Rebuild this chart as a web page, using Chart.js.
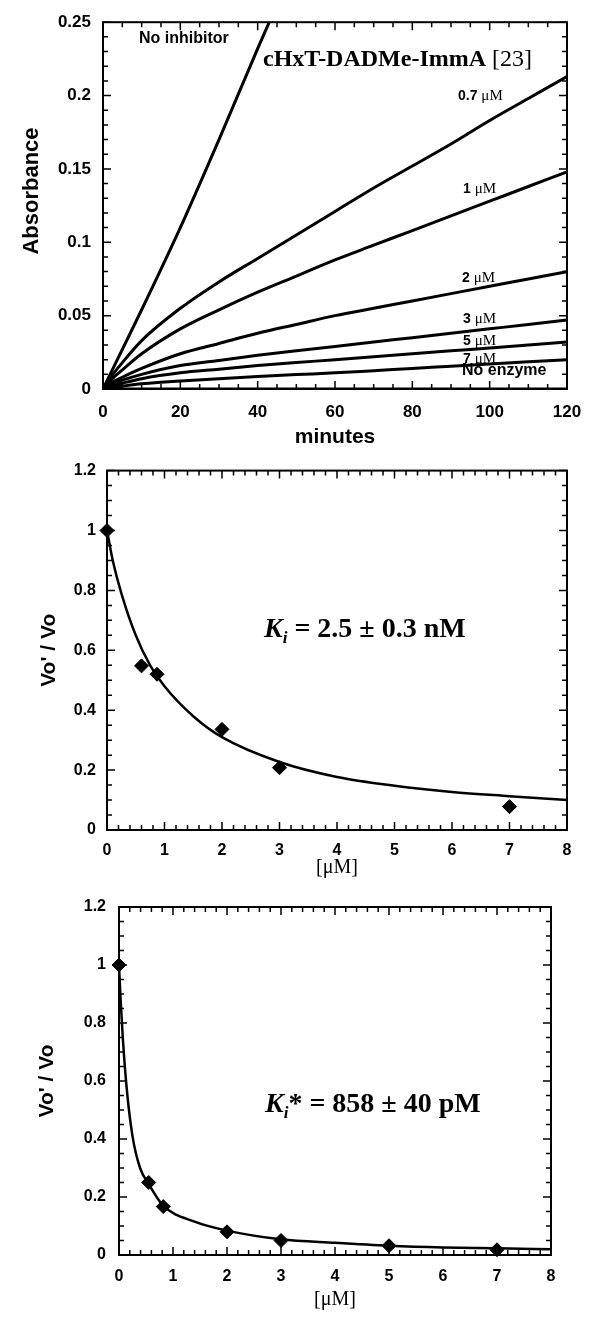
<!DOCTYPE html>
<html>
<head>
<meta charset="utf-8">
<script src="https://cdn.jsdelivr.net/npm/chart.js@4.4.1/dist/chart.umd.min.js"></script>
<style>
    body { margin: 0; background: #fff; width: 600px; height: 1325px; position: relative; overflow: hidden; }
    canvas { position: absolute; left: 0; }
</style>
</head>
<body>
<canvas id="absorbance" width="600" height="450" style="top:0"></canvas>
<canvas id="ki" width="600" height="430" style="top:450px"></canvas>
<canvas id="kistar" width="600" height="445" style="top:880px"></canvas>

<script>
// --- top panel: absorbance vs minutes ---
const minutes = [0, 2, 5, 10, 20, 30, 40, 50, 60, 70, 80, 90, 100, 110, 120];
const noInhibitorMinutes = [0, 5, 10, 20, 30, 40, 43];
const absNoInhibitor = [0, 0.027, 0.054, 0.110, 0.170, 0.232, 0.25];
const abs07uM = [0, 0.008, 0.018, 0.033, 0.055, 0.073, 0.089, 0.105, 0.121, 0.137, 0.152, 0.167, 0.183, 0.198, 0.213];
const abs1uM = [0, 0.006, 0.013, 0.024, 0.041, 0.054, 0.066, 0.077, 0.088, 0.098, 0.108, 0.118, 0.128, 0.138, 0.148];
const abs2uM = [0, 0.004, 0.008, 0.014, 0.024, 0.031, 0.038, 0.044, 0.050, 0.055, 0.060, 0.065, 0.070, 0.075, 0.080];
const abs3uM = [0, 0.003, 0.006, 0.010, 0.016, 0.0195, 0.023, 0.026, 0.029, 0.032, 0.035, 0.038, 0.041, 0.044, 0.047];
const abs5uM = [0, 0.002, 0.004, 0.007, 0.011, 0.0135, 0.016, 0.018, 0.020, 0.022, 0.024, 0.026, 0.028, 0.030, 0.032];
const abs7uM = [0, 0.001, 0.002, 0.0035, 0.0055, 0.007, 0.0085, 0.0098, 0.011, 0.0125, 0.014, 0.0155, 0.017, 0.0185, 0.020];
const absNoEnzyme = [0, 0, 0, 0, 0, 0, 0, 0, 0, 0, 0, 0, 0, 0, 0];
const minuteTicks = [0, 20, 40, 60, 80, 100, 120];
const absTicks = [0, 0.05, 0.1, 0.15, 0.2, 0.25];

// --- middle panel: Ki ---
const kiConc = [0, 0.6, 0.87, 2, 3, 7];
const kiRatio = [1.0, 0.548, 0.52, 0.336, 0.208, 0.078];
const kiFitConc = [0, 0.1, 0.25, 0.5, 0.75, 1, 1.5, 2, 3, 4, 5, 6, 7, 8];
const kiFitRatio = [1.0, 0.9, 0.79, 0.65, 0.55, 0.48, 0.38, 0.31, 0.227, 0.177, 0.148, 0.127, 0.113, 0.1];

// --- bottom panel: Ki* ---
const kiStarConc = [0, 0.55, 0.82, 2, 3, 5, 7];
const kiStarRatio = [1.0, 0.25, 0.167, 0.08, 0.05, 0.032, 0.018];
const kiStarFitConc = [0, 0.03, 0.07, 0.14, 0.25, 0.39, 0.55, 0.82, 1.4, 2, 3, 4, 5, 6, 7, 8];
const kiStarFitRatio = [1.0, 0.88, 0.75, 0.58, 0.41, 0.3, 0.245, 0.17, 0.115, 0.084, 0.054, 0.042, 0.032, 0.026, 0.023, 0.0195];

const concTicks = [0, 1, 2, 3, 4, 5, 6, 7, 8];
const ratioTicks = [0, 0.2, 0.4, 0.6, 0.8, 1, 1.2];

const SANS = '"Liberation Sans", Arial, sans-serif';
const SERIF = '"Liberation Serif", "Times New Roman", serif';

function pairs(xs, ys) {
    return xs.map((x, i) => ({ x: x, y: ys[i] }));
}

function trace(xs, ys, width) {
    return {
        data: pairs(xs, ys),
        borderColor: '#000',
        borderWidth: width,
        pointRadius: 0,
        cubicInterpolationMode: 'monotone',
        fill: false
    };
}

function diamonds(xs, ys) {
    return {
        data: pairs(xs, ys),
        showLine: false,
        clip: false,
        pointStyle: 'rectRot',
        pointRadius: 7,
        pointBackgroundColor: '#000',
        pointBorderColor: '#000'
    };
}

// draw a row of text pieces with different fonts
function drawRuns(ctx, x, y, runs) {
    ctx.textBaseline = 'alphabetic';
    ctx.textAlign = 'left';
    runs.forEach(r => {
        ctx.font = r.font;
        ctx.fillText(r.t, x, y + (r.dy || 0));
        x += ctx.measureText(r.t).width;
    });
}

// box around the plot plus inward ticks on all four sides
const frameTicks = {
    id: 'frameTicks',
    afterDatasetsDraw(chart, args, o) {
        const { ctx, chartArea: a, scales: { x, y } } = chart;
        ctx.save();
        ctx.strokeStyle = '#000';
        ctx.lineWidth = 1.5;
        const mark = (scale, minor, major, horizontal) => {
            const n = Math.round((scale.max - scale.min) / minor);
            for (let i = 0; i <= n; i++) {
                const v = scale.min + i * minor;
                const isMajor = Math.abs(v / major - Math.round(v / major)) < 1e-6;
                const len = isMajor ? 8 : 5;
                const p = scale.getPixelForValue(v);
                ctx.beginPath();
                if (horizontal) {
                    ctx.moveTo(p, a.bottom); ctx.lineTo(p, a.bottom - len);
                    ctx.moveTo(p, a.top); ctx.lineTo(p, a.top + len);
                } else {
                    ctx.moveTo(a.left, p); ctx.lineTo(a.left + len, p);
                    ctx.moveTo(a.right, p); ctx.lineTo(a.right - len, p);
                }
                ctx.stroke();
            }
        };
        mark(x, o.xMinor, o.xMajor, true);
        mark(y, o.yMinor, o.yMajor, false);
        ctx.lineWidth = 2;
        ctx.strokeRect(a.left, a.top, a.width, a.height);
        ctx.restore();
    }
};

// free text inside the plots (and the rotated axis title of the top panel)
const notes = {
    id: 'notes',
    afterDraw(chart, args, o) {
        const ctx = chart.ctx;
        ctx.save();
        ctx.fillStyle = '#000';
        (o.items || []).forEach(it => {
            if (it.rotate) {
                ctx.save();
                ctx.translate(it.x, it.y);
                ctx.rotate(-Math.PI / 2);
                ctx.font = it.runs[0].font;
                ctx.textAlign = 'center';
                ctx.textBaseline = 'middle';
                ctx.fillText(it.runs[0].t, 0, 0);
                ctx.restore();
            } else {
                drawRuns(ctx, it.x, it.y, it.runs);
            }
        });
        ctx.restore();
    }
};

function axis(opts) {
    return {
        type: 'linear',
        min: opts.min,
        max: opts.max,
        afterBuildTicks: s => { s.ticks = opts.ticks.map(v => ({ value: v })); },
        afterFit: s => {
            if (opts.width !== undefined) s.width = opts.width;
            if (opts.height !== undefined) s.height = opts.height;
        },
        grid: { display: false, drawTicks: false },
        border: { display: false },
        ticks: {
            color: '#000',
            padding: opts.pad,
            font: { family: SANS, weight: 'bold', size: opts.fontSize },
            callback: v => String(+v.toFixed(2))
        },
        title: {
            display: !!opts.title,
            text: opts.title,
            color: '#000',
            font: opts.titleFont,
            padding: opts.titlePad
        }
    };
}

function makeChart(id, datasets, layout, scales, frame, items) {
    return new Chart(document.getElementById(id), {
        type: 'line',
        data: { datasets: datasets },
        options: {
            responsive: false,
            animation: false,
            layout: { padding: layout },
            plugins: {
                legend: { display: false },
                tooltip: { enabled: false },
                frameTicks: frame,
                notes: { items: items }
            },
            scales: scales
        },
        plugins: [frameTicks, notes]
    });
}

const muLabel = (num, x, y) => ({
    x: x, y: y,
    runs: [
        { t: num + ' ', font: 'bold 14px ' + SANS },
        { t: '\u03bcM', font: '15px ' + SERIF }
    ]
});

// top panel
makeChart('absorbance',
    [
        trace(noInhibitorMinutes, absNoInhibitor, 3),
        trace(minutes, abs07uM, 3),
        trace(minutes, abs1uM, 3),
        trace(minutes, abs2uM, 3),
        trace(minutes, abs3uM, 3),
        trace(minutes, abs5uM, 3),
        trace(minutes, abs7uM, 3),
        trace(minutes, absNoEnzyme, 3)
    ],
    { left: 0, right: 33, top: 13, bottom: 0 },
    {
        x: axis({ min: 0, max: 120, ticks: minuteTicks, height: 61, pad: 13, fontSize: 17,
            title: 'minutes', titleFont: { family: SANS, weight: 'bold', size: 21 }, titlePad: { top: 0, bottom: 0 } }),
        y: axis({ min: 0, max: 0.25, ticks: absTicks, width: 103, pad: 12, fontSize: 17 })
    },
    { xMinor: 5, xMajor: 20, yMinor: 0.01, yMajor: 0.05 },
    [
        { x: 32, y: 191, rotate: true, runs: [{ t: 'Absorbance', font: 'bold 22px ' + SANS }] },
        { x: 139, y: 43, runs: [{ t: 'No inhibitor', font: 'bold 16px ' + SANS }] },
        { x: 263, y: 66, runs: [{ t: 'cHxT-DADMe-ImmA ', font: 'bold 24px ' + SERIF }, { t: '[23]', font: '24px ' + SERIF }] },
        muLabel('0.7', 458, 100),
        muLabel('1', 463, 193),
        muLabel('2', 462, 282),
        muLabel('3', 463, 323),
        muLabel('5', 463, 345),
        muLabel('7', 463, 363),
        { x: 462, y: 375, runs: [{ t: 'No enzyme', font: 'bold 16px ' + SANS }] }
    ]
);

const kiTitle = (x, y, star, rest) => ({
    x: x, y: y,
    runs: [
        { t: 'K', font: 'italic bold 28px ' + SERIF },
        { t: 'i', font: 'italic bold 17px ' + SERIF, dy: 6 },
        { t: (star ? '*' : '') + ' = ' + rest, font: 'bold 28px ' + SERIF }
    ]
});

// middle panel
makeChart('ki',
    [
        diamonds(kiConc, kiRatio),
        trace(kiFitConc, kiFitRatio, 2.5)
    ],
    { left: 0, right: 33, top: 20, bottom: 0 },
    {
        x: axis({ min: 0, max: 8, ticks: concTicks, height: 50, pad: 11, fontSize: 16,
            title: '[\u03bcM]', titleFont: { family: SERIF, size: 20 }, titlePad: { top: 0, bottom: 0 } }),
        y: axis({ min: 0, max: 1.2, ticks: ratioTicks, width: 107, pad: 11, fontSize: 16,
            title: "Vo' / Vo", titleFont: { family: SANS, weight: 'bold', size: 21 }, titlePad: { top: 37, bottom: 0 } })
    },
    { xMinor: 0.2, xMajor: 1, yMinor: 0.05, yMajor: 0.2 },
    [kiTitle(264, 187, false, '2.5 \u00b1 0.3 nM')]
);

// bottom panel
makeChart('kistar',
    [
        diamonds(kiStarConc, kiStarRatio),
        trace(kiStarFitConc, kiStarFitRatio, 2.5)
    ],
    { left: 0, right: 49, top: 27, bottom: 0 },
    {
        x: axis({ min: 0, max: 8, ticks: concTicks, height: 70, pad: 12, fontSize: 16,
            title: '[\u03bcM]', titleFont: { family: SERIF, size: 20 }, titlePad: { top: 0, bottom: 13 } }),
        y: axis({ min: 0, max: 1.2, ticks: ratioTicks, width: 119, pad: 13, fontSize: 16,
            title: "Vo' / Vo", titleFont: { family: SANS, weight: 'bold', size: 21 }, titlePad: { top: 35, bottom: 0 } })
    },
    { xMinor: 0.2, xMajor: 1, yMinor: 0.05, yMajor: 0.2 },
    [kiTitle(265, 232, true, '858 \u00b1 40 pM')]
);
</script>
</body>
</html>
